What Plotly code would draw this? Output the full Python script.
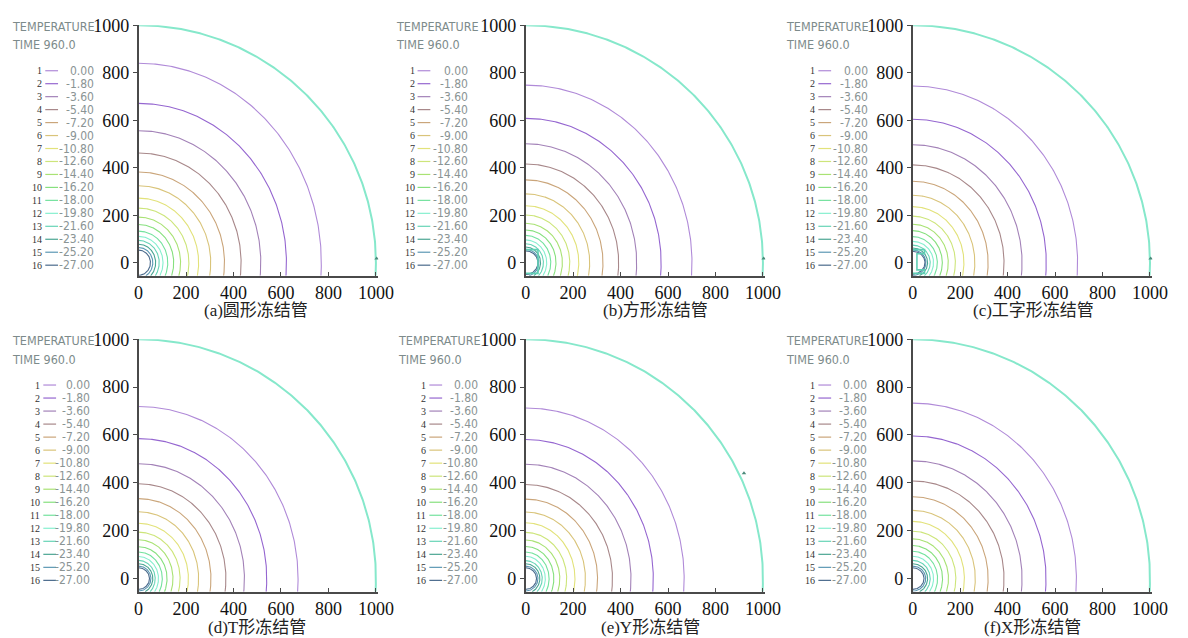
import numpy as np
import plotly.graph_objects as go

W, H = 1188, 638

# ---------------- data ----------------
level_ids = list(range(1, 17))
level_values = [0.00, -1.80, -3.60, -5.40, -7.20, -9.00, -10.80, -12.60,
                -14.40, -16.20, -18.00, -19.80, -21.60, -23.40, -25.20, -27.00]
level_colors = ["#b08ad8", "#9566d0", "#a382b8", "#a8888a", "#caa57a", "#d9c47a",
                "#e2e27a", "#cde57a", "#a9e274", "#86e07e", "#74e29e", "#86efcf",
                "#66d4b6", "#4aa592", "#5c98b4", "#4a6a8c"]
boundary_color = "#86e8cb"
boundary_radius = 1000

captions = ["(a)圆形冻结管", "(b)方形冻结管", "(c)工字形冻结管",
            "(d)T形冻结管", "(e)Y形冻结管", "(f)X形冻结管"]

# contour intercepts (y-axis intercept, x-axis intercept)
ry_a = [840, 671, 556, 462, 382, 324, 272, 230, 192, 161, 133, 111, 94, 78, 64, 53]
rx_a = [770, 623, 515, 432, 362, 304, 253, 212, 177, 148, 123, 103, 87, 72, 60, 50]
ry_b = [748, 608, 501, 416, 349, 290, 240, 201, 166, 138, 115, 96, 80, 66, 57, 50]
rx_b = [701, 571, 468, 392, 326, 270, 224, 186, 155, 128, 106, 89, 75, 63, 56, 52]
ry_c = [744, 604, 497, 412, 343, 284, 236, 196, 162, 135, 110, 90, 74, 62, 54, 48]
rx_c = [695, 563, 461, 385, 318, 262, 216, 180, 150, 125, 104, 88, 74, 63, 56, 52]
ry_d = [719, 585, 480, 396, 334, 279, 231, 194, 162, 133, 111, 92, 76, 62, 52, 45]
rx_d = [672, 540, 446, 368, 305, 253, 210, 175, 145, 120, 100, 84, 70, 60, 52, 46]
ry_e = [713, 581, 478, 393, 332, 278, 233, 193, 161, 134, 111, 93, 75, 62, 52, 45]
rx_e = [668, 538, 444, 366, 303, 252, 208, 173, 144, 119, 99, 83, 70, 60, 52, 46]
ry_f = [733, 596, 492, 408, 342, 285, 239, 198, 166, 138, 114, 93, 76, 62, 52, 45]
rx_f = [690, 562, 461, 385, 318, 264, 218, 182, 151, 126, 105, 88, 74, 63, 55, 48]

panels_ry = [ry_a, ry_b, ry_c, ry_d, ry_e, ry_f]
panels_rx = [rx_a, rx_b, rx_c, rx_d, rx_e, rx_f]

# freezing-pipe outlines (square and I-shaped) and small node markers
pipe_b_x = [0, 52, 52, 0]
pipe_b_y = [55, 55, -45, -45]
pipe_c_x = [0, 50, 50, 18, 18, 50, 50, 0]
pipe_c_y = [55, 55, 38, 38, -30, -30, -45, -45]
pipes = {1: (pipe_b_x, pipe_b_y), 2: (pipe_c_x, pipe_c_y)}
node_x = [1003, 1003, 1003, None, 920, None]
node_y = [18, 18, 18, None, 440, None]

tick_vals = [0, 200, 400, 600, 800, 1000]
x_range = [0, 1010]
y_range = [-55, 1000]

# ---------------- layout geometry (pixels) ----------------
col_left = [136, 530, 924]
plot_w = 244
row_top = [15.5, 334.5]
row_bot = [270, 591]

num_right = [39, 418, 826, 37, 430, 826]
val_right = [92, 472, 880, 88, 483, 879]
title_left = [6, 397, 794, 6, 399, 794]
cap_x = [256, 662, 1047, 257, 657, 1046]
cap_y = [305, 627]
leg_first = [61.7, 381.0]
leg_step = [13.17, 13.23]
title_y = [[16.7, 35.0], [336.0, 355.0]]

fig = go.Figure()


def px(x):
    return x / W


def py(y):
    return 1 - y / H


annotations = []
shapes = []
sans = "DejaVu Sans Condensed, DejaVu Sans"

for i in range(6):
    r, c = divmod(i, 3)
    n = i + 1
    xa = "x" if n == 1 else f"x{n}"
    ya = "y" if n == 1 else f"y{n}"

    # boundary arc
    ymin = y_range[0]
    t0 = -np.arcsin(min(1.0, -ymin / boundary_radius))
    t = np.linspace(np.pi / 2, t0, 200)
    fig.add_trace(go.Scatter(x=boundary_radius * np.cos(t), y=boundary_radius * np.sin(t),
                             mode="lines", line=dict(color=boundary_color, width=2),
                             xaxis=xa, yaxis=ya, showlegend=False, hoverinfo="skip"))
    # contour lines
    for k in range(16):
        ry = panels_ry[i][k]
        rx = panels_rx[i][k]
        t0 = -np.arcsin(min(1.0, -ymin / ry))
        t = np.linspace(np.pi / 2, t0, 160)
        fig.add_trace(go.Scatter(x=rx * np.cos(t), y=ry * np.sin(t), mode="lines",
                                 line=dict(color=level_colors[k], width=1.1),
                                 xaxis=xa, yaxis=ya, showlegend=False, hoverinfo="skip"))
    if i in pipes:
        pxs, pys = pipes[i]
        fig.add_trace(go.Scatter(x=pxs, y=pys, mode="lines",
                                 line=dict(color="#5fcfb4", width=1.6),
                                 xaxis=xa, yaxis=ya, showlegend=False, hoverinfo="skip"))
    if node_x[i] is not None:
        fig.add_trace(go.Scatter(x=[node_x[i]], y=[node_y[i]], mode="markers",
                                 marker=dict(symbol="triangle-up", size=4, color="#4a8a7a"),
                                 xaxis=xa, yaxis=ya, showlegend=False, hoverinfo="skip"))

    x0 = col_left[c]
    axis_common = dict(showgrid=False, zeroline=False, showline=True, linecolor="#4a4a4a",
                       linewidth=1.5, tickvals=tick_vals, ticklen=4, tickcolor="#4a4a4a",
                       tickfont=dict(family="Liberation Serif, serif", size=18, color="#111"))
    fig.layout[f"xaxis{'' if n == 1 else n}"] = dict(
        domain=[px(x0), px(x0 + plot_w)], range=x_range, anchor=ya, ticks="inside",
        **axis_common)
    fig.layout[f"yaxis{'' if n == 1 else n}"] = dict(
        domain=[py(row_bot[r]), py(row_top[r])], range=y_range, anchor=xa, ticks="outside",
        **axis_common)

    # legend block
    for txt, ty in (("TEMPERATURE", title_y[r][0]), ("TIME 960.0", title_y[r][1])):
        annotations.append(dict(x=px(title_left[i]), y=py(ty), xref="paper", yref="paper",
                                text=txt, showarrow=False, xanchor="left", yanchor="middle",
                                borderpad=0,
                                font=dict(family=sans, size=12.5, color="#7d8b8b")))
    for k in range(16):
        yy = leg_first[r] + k * leg_step[r]
        annotations.append(dict(x=px(num_right[i]), y=py(yy), xref="paper", yref="paper",
                                text=str(level_ids[k]), showarrow=False, xanchor="right",
                                yanchor="middle", borderpad=0,
                                font=dict(family="Liberation Serif, serif", size=10,
                                          color="#333")))
        shapes.append(dict(type="line", xref="paper", yref="paper",
                           x0=px(num_right[i] + 2), x1=px(num_right[i] + 15),
                           y0=py(yy), y1=py(yy),
                           line=dict(color=level_colors[k], width=1.2)))
        annotations.append(dict(x=px(val_right[i]), y=py(yy), xref="paper", yref="paper",
                                text=f"{level_values[k]:.2f}", showarrow=False, xanchor="right",
                                yanchor="middle", borderpad=0,
                                font=dict(family=sans, size=12, color="#8a9494")))
    # caption
    annotations.append(dict(x=px(cap_x[i]), y=py(cap_y[r]), xref="paper", yref="paper",
                            text=captions[i], showarrow=False, xanchor="center", yanchor="middle",
                            borderpad=0,
                            font=dict(family="Liberation Serif, Noto Sans CJK SC", size=17,
                                      color="#222")))

fig.update_layout(width=W, height=H, margin=dict(l=0, r=0, t=0, b=0),
                  paper_bgcolor="white", plot_bgcolor="white",
                  annotations=annotations, shapes=shapes, showlegend=False)

fig.write_html("out.html", config={"displayModeBar": False},
               post_script="document.body.style.margin='0';document.body.style.padding='0';")
